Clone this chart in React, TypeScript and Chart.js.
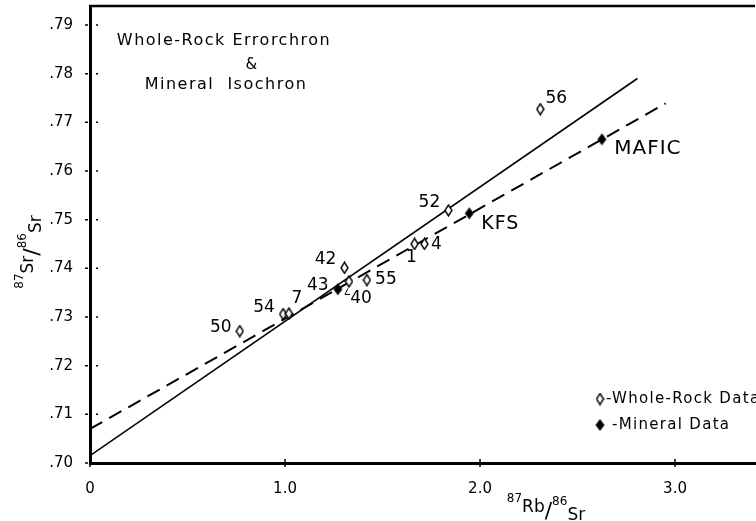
import React, { useEffect, useRef } from 'react';
import { Chart, registerables } from 'chart.js';

Chart.register(...registerables);

// ---- data ----
const wholeRockLabels = ['50', '54', '7', '42', '40', '55', '1', '4', '52', '56'];
const wholeRockX = [0.768, 0.99, 1.02, 1.305, 1.328, 1.42, 1.664, 1.715, 1.838, 2.309];
const wholeRockY = [0.7271, 0.7306, 0.7307, 0.7401, 0.7373, 0.7376, 0.745, 0.745, 0.7519, 0.7727];

const mineralLabels = ['43', 'KFS', 'MAFIC'];
const mineralX = [1.271, 1.945, 2.625];
const mineralY = [0.7357, 0.7513, 0.7665];

// whole-rock errorchron (solid) and mineral isochron (dashed) end points
const errorchronX = [0, 2.807];
const errorchronY = [0.7015, 0.779];
const isochronX = [0, 2.952];
const isochronY = [0.707, 0.7739];

const xTickValues = [0, 1, 2, 3];
const yTickValues = [0.7, 0.71, 0.72, 0.73, 0.74, 0.75, 0.76, 0.77, 0.78, 0.79];

const titleLines = ['Whole-Rock Errorchron', '&', 'Mineral  Isochron'];
const legendLabels = ['-Whole-Rock Data', ' -Mineral Data'];

// label placement (pixel offsets from the marker)
const labelOffsets: Record<string, [number, number]> = {
  '50': [-19, -4],
  '54': [-19, -6],
  '7': [8, -15],
  '42': [-19, -8],
  '40': [12, 17],
  '55': [19, 0],
  '1': [-3, 14],
  '4': [12, 1],
  '52': [-19, -8],
  '56': [16, -11],
  '43': [-20, -4],
  KFS: [31, 11],
  MAFIC: [46, 9],
};

const FONT = "'DejaVu Sans', 'Liberation Sans', sans-serif";

function makeDiamond(w: number, h: number, filled: boolean): HTMLCanvasElement {
  const c = document.createElement('canvas');
  c.width = w;
  c.height = h;
  const g = c.getContext('2d')!;
  g.beginPath();
  g.moveTo(w / 2, 1);
  g.lineTo(w - 1, h / 2);
  g.lineTo(w / 2, h - 1);
  g.lineTo(1, h / 2);
  g.closePath();
  if (filled) {
    g.fillStyle = '#000';
    g.fill();
  } else {
    g.fillStyle = '#fff';
    g.fill();
    g.lineWidth = 1.4;
    g.strokeStyle = '#000';
    g.stroke();
  }
  return c;
}

type Part = { t: string; size: number; dy: number };

function drawParts(ctx: CanvasRenderingContext2D, parts: Part[], cx: number, baseY: number) {
  let total = 0;
  const widths = parts.map((p) => {
    ctx.font = `${p.size}px ${FONT}`;
    const w = ctx.measureText(p.t).width;
    total += w;
    return w;
  });
  let x = cx - total / 2;
  ctx.textAlign = 'left';
  ctx.textBaseline = 'alphabetic';
  parts.forEach((p, i) => {
    ctx.font = `${p.size}px ${FONT}`;
    ctx.fillText(p.t, x, baseY + p.dy);
    x += widths[i];
  });
}

export default function App() {
  const ref = useRef<HTMLCanvasElement | null>(null);

  useEffect(() => {
    if (!ref.current) return;
    const openD = makeDiamond(9, 13, false);
    const fillD = makeDiamond(11, 14, true);

    const decor = {
      id: 'decor',
      afterDraw(chart: any) {
        const ctx: CanvasRenderingContext2D = chart.ctx;
        const area = chart.chartArea;
        const xs = chart.scales.x;
        const ys = chart.scales.y;
        ctx.save();
        ctx.beginPath();

        // keep the open right side of the frame clean
        ctx.fillStyle = '#fff';
        ctx.fillRect(740, area.top + 2, chart.width - 740, area.bottom - area.top - 4);

        ctx.fillStyle = '#000';
        ctx.strokeStyle = '#000';

        // top frame line
        ctx.lineWidth = 2.5;
        ctx.beginPath();
        ctx.moveTo(area.left - 1, area.top);
        ctx.lineTo(area.right, area.top);
        ctx.stroke();

        // tick marks
        ctx.lineWidth = 1.5;
        xTickValues.forEach((v) => {
          const px = xs.getPixelForValue(v);
          ctx.beginPath();
          ctx.moveTo(px, area.bottom - 4);
          ctx.lineTo(px, area.bottom + 4);
          ctx.stroke();
        });
        yTickValues.forEach((v) => {
          const py = ys.getPixelForValue(v);
          ctx.beginPath();
          ctx.moveTo(area.left - 5, py);
          ctx.lineTo(area.left - 2, py);
          ctx.moveTo(area.left + 6, py);
          ctx.lineTo(area.left + 8, py);
          ctx.stroke();
        });

        // point labels
        ctx.textAlign = 'center';
        ctx.textBaseline = 'middle';
        const drawLabels = (dsIndex: number, labels: string[]) => {
          const meta = chart.getDatasetMeta(dsIndex);
          meta.data.forEach((el: any, i: number) => {
            const lab = labels[i];
            const off = labelOffsets[lab] || [0, 0];
            let size = 17;
            if (lab === 'MAFIC') size = 20;
            if (lab === 'KFS') size = 19;
            ctx.font = `${size}px ${FONT}`;
            (ctx as any).letterSpacing = lab.length > 2 ? '1px' : '0px';
            ctx.fillText(lab, el.x + off[0], el.y + off[1]);
            if (lab === '40') {
              ctx.lineWidth = 1;
              ctx.beginPath();
              ctx.moveTo(el.x - 1, el.y + 7);
              ctx.lineTo(el.x - 4, el.y + 13);
              ctx.lineTo(el.x + 1, el.y + 13);
              ctx.stroke();
            }
          });
        };
        drawLabels(0, wholeRockLabels);
        drawLabels(1, mineralLabels);
        (ctx as any).letterSpacing = '0px';

        // title block
        (ctx as any).letterSpacing = '1.5px';
        ctx.font = `16px ${FONT}`;
        ctx.textAlign = 'center';
        ctx.textBaseline = 'middle';
        ctx.fillText(titleLines[0], 224, 41);
        ctx.font = `15px ${FONT}`;
        ctx.fillText(titleLines[1], 252, 65);
        ctx.font = `16px ${FONT}`;
        ctx.fillText(titleLines[2], 226, 85);

        // legend
        (ctx as any).letterSpacing = '1.3px';
        ctx.font = `15px ${FONT}`;
        ctx.textAlign = 'left';
        ctx.drawImage(openD, 600 - openD.width / 2, 399 - openD.height / 2);
        ctx.fillText(legendLabels[0], 606, 399);
        ctx.drawImage(fillD, 600 - fillD.width / 2, 425 - fillD.height / 2);
        ctx.fillText(legendLabels[1], 606, 425);
        (ctx as any).letterSpacing = '0px';

        // x axis title  87Rb/86Sr
        drawParts(
          ctx,
          [
            { t: '87', size: 12, dy: -10 },
            { t: 'Rb', size: 17, dy: 0 },
            { t: '/', size: 22, dy: 6 },
            { t: '86', size: 12, dy: -7 },
            { t: 'Sr', size: 17, dy: 8 },
          ],
          546,
          512
        );

        // y axis title, rotated
        ctx.translate(33, 252);
        ctx.rotate(-Math.PI / 2);
        drawParts(
          ctx,
          [
            { t: '87', size: 12, dy: -10 },
            { t: 'Sr', size: 17, dy: 0 },
            { t: '/', size: 22, dy: 6 },
            { t: '86', size: 12, dy: -7 },
            { t: 'Sr', size: 17, dy: 8 },
          ],
          0,
          0
        );
        ctx.restore();
      },
    };

    const chart = new Chart(ref.current, {
      type: 'scatter',
      data: {
        datasets: [
          {
            label: 'Whole-Rock Data',
            data: wholeRockX.map((x, i) => ({ x, y: wholeRockY[i] })),
            pointStyle: openD as any,
            pointRadius: 5,
            showLine: false,
          },
          {
            label: 'Mineral Data',
            data: mineralX.map((x, i) => ({ x, y: mineralY[i] })),
            pointStyle: fillD as any,
            pointRadius: 5,
            showLine: false,
          },
          {
            label: 'Whole-Rock Errorchron',
            data: errorchronX.map((x, i) => ({ x, y: errorchronY[i] })),
            showLine: true,
            borderColor: '#000',
            borderWidth: 1.6,
            pointRadius: 0,
          },
          {
            label: 'Mineral Isochron',
            data: isochronX.map((x, i) => ({ x, y: isochronY[i] })),
            showLine: true,
            borderColor: '#000',
            borderWidth: 2,
            borderDash: [14, 8],
            pointRadius: 0,
          },
        ],
      },
      options: {
        animation: false,
        responsive: false,
        devicePixelRatio: 1,
        layout: { padding: { top: 6, left: 0, right: 0, bottom: 0 } },
        plugins: {
          legend: { display: false },
          tooltip: { enabled: false },
          title: { display: false },
        },
        scales: {
          x: {
            type: 'linear',
            min: 0,
            max: 3.41,
            grid: { display: false },
            border: { display: true, color: '#000', width: 3 },
            afterFit: (s: any) => {
              s.height = 58;
              s.paddingLeft = 0;
              s.paddingRight = 0;
            },
            afterBuildTicks: (s: any) => {
              s.ticks = xTickValues.map((value) => ({ value }));
            },
            ticks: {
              autoSkip: false,
              maxRotation: 0,
              padding: 9,
              color: '#000',
              font: { family: FONT, size: 15 },
              callback: (v: any) => (Number(v) === 0 ? '0' : Number(v).toFixed(1)),
            },
          },
          y: {
            type: 'linear',
            min: 0.7,
            max: 0.7939,
            grid: { display: false },
            border: { display: true, color: '#000', width: 3 },
            afterFit: (s: any) => {
              s.width = 90;
              s.paddingTop = 0;
              s.paddingBottom = 0;
            },
            afterBuildTicks: (s: any) => {
              s.ticks = yTickValues.map((value) => ({ value }));
            },
            ticks: {
              autoSkip: false,
              padding: 9,
              color: '#000',
              font: { family: FONT, size: 15 },
              callback: (v: any) => '.' + String(Math.round(Number(v) * 100)).padStart(2, '0'),
            },
          },
        },
      },
      plugins: [decor],
    });
    return () => chart.destroy();
  }, []);

  return (
    <div style={{ position: 'absolute', left: 0, top: 0, width: 756, height: 521, background: '#fff', overflow: 'hidden' }}>
      <canvas ref={ref} width={761} height={521} style={{ display: 'block' }} />
    </div>
  );
}
